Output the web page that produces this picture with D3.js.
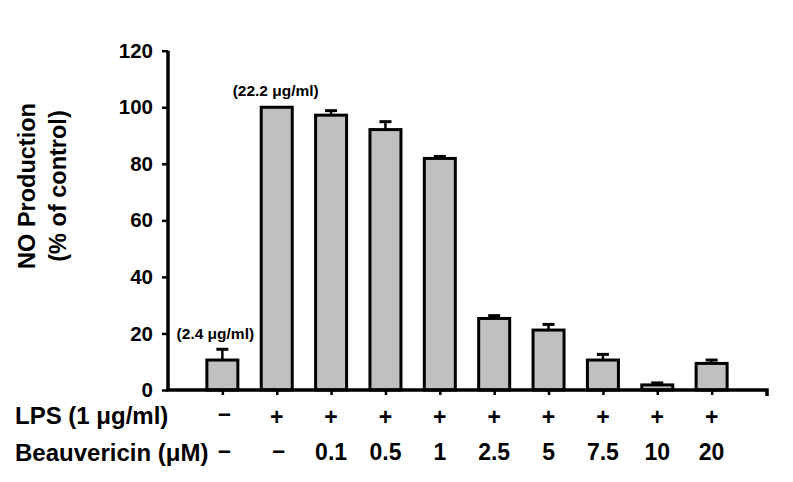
<!DOCTYPE html>
<html>
<head>
<meta charset="utf-8">
<script src="https://cdn.jsdelivr.net/npm/d3@7"></script>
<style>
  html, body { margin: 0; padding: 0; background: #fff; }
  svg { display: block; }
  text { font-family: "Liberation Sans", Arial, sans-serif; font-weight: bold; fill: #000; }
</style>
</head>
<body>
<svg id="chart" width="793" height="482"></svg>
<script>
// ---- data ----
const categories = ["c1", "c2", "c3", "c4", "c5", "c6", "c7", "c8", "c9", "c10"];
const values = [10.6, 100, 97.2, 92.1, 81.9, 25.3, 21.2, 10.6, 1.8, 9.4];
const errors = [3.8, 0, 1.6, 2.8, 0.7, 1.0, 2.0, 2.0, 0.7, 1.2];
const lpsLabels = ["\u2013", "+", "+", "+", "+", "+", "+", "+", "+", "+"];
const beauvericinLabels = ["\u2013", "\u2013", "0.1", "0.5", "1", "2.5", "5", "7.5", "10", "20"];
const yTicks = [0, 20, 40, 60, 80, 100, 120];
const annotations = [
  { index: 0, text: "(2.4 \u03bcg/ml)" },
  { index: 1, text: "(22.2 \u03bcg/ml)" }
];

// ---- layout ----
const svg = d3.select("#chart");
const x0 = 168, x1 = 766, yBottom = 390, yTop = 50.7;

const x = d3.scalePoint().domain(categories).range([x0, x1]).padding(1);
const y = d3.scaleLinear().domain([0, 120]).range([yBottom, yTop]);
const barW = 31;

// bars
svg.append("g").selectAll("rect")
  .data(values)
  .join("rect")
  .attr("x", (d, i) => x(categories[i]) - barW / 2)
  .attr("y", d => y(d))
  .attr("width", barW)
  .attr("height", d => y(0) - y(d))
  .attr("fill", "#c0c0c0")
  .attr("stroke", "#000")
  .attr("stroke-width", 3);

// error bars
const eg = svg.append("g").attr("stroke", "#000");
values.forEach((v, i) => {
  if (!errors[i]) return;
  const cx = x(categories[i]);
  eg.append("line").attr("x1", cx).attr("x2", cx)
    .attr("y1", y(v)).attr("y2", y(v + errors[i])).attr("stroke-width", 2.5);
  eg.append("line").attr("x1", cx - 6).attr("x2", cx + 6)
    .attr("y1", y(v + errors[i])).attr("y2", y(v + errors[i])).attr("stroke-width", 3);
});

// y axis
const yAxis = svg.append("g")
  .attr("transform", `translate(${x0},0)`)
  .call(d3.axisLeft(y).tickValues(yTicks).tickSize(6).tickPadding(9).tickFormat(d3.format("d")));
yAxis.select(".domain").attr("d", `M-0,${yTop}V${yBottom}`).attr("stroke-width", 3.5);
yAxis.selectAll(".tick line").attr("stroke-width", 2.5);
yAxis.selectAll(".tick text")
  .style("font-size", "20.5px").style("font-family", '"Liberation Sans", Arial, sans-serif')
  .style("font-weight", "bold").attr("fill", "#000");

// x axis
const xAxis = svg.append("g")
  .attr("transform", `translate(0,${yBottom})`)
  .call(d3.axisBottom(x).tickSize(5).tickFormat(""));
xAxis.select(".domain").attr("d", `M${x0 - 1.5},0H${x1 + 1}V6`).attr("stroke-width", 3.5).attr("fill", "none");
xAxis.selectAll(".tick line").attr("stroke-width", 2.5);

// row labels
svg.append("text").attr("x", 15).attr("y", 424).style("font-size", "24px").text("LPS (1 \u03bcg/ml)");
svg.append("text").attr("x", 15).attr("y", 461).style("font-size", "24px").text("Beauvericin (\u03bcM)");

svg.append("g").selectAll("text")
  .data(lpsLabels)
  .join("text")
  .attr("x", (d, i) => x(categories[i]) + (d === "+" ? 0 : 2))
  .attr("y", d => d === "+" ? 425 : 421)
  .attr("text-anchor", "middle")
  .style("font-size", "23px")
  .text(d => d);

svg.append("g").selectAll("text")
  .data(beauvericinLabels)
  .join("text")
  .attr("x", (d, i) => x(categories[i]) + (d === "\u2013" ? 2 : 0))
  .attr("y", d => d === "\u2013" ? 458 : 460)
  .attr("text-anchor", "middle")
  .style("font-size", "23px")
  .text(d => d);

// annotations
svg.append("g").selectAll("text")
  .data(annotations)
  .join("text")
  .attr("x", d => x(categories[d.index]) - (d.index === 0 ? 7 : 1))
  .attr("y", d => y(values[d.index] + errors[d.index]) - (d.index === 0 ? 10 : 11))
  .attr("text-anchor", "middle")
  .style("font-size", "15.5px")
  .text(d => d.text);

// y title
svg.append("text").attr("transform", "translate(35,186) rotate(-90)")
  .attr("text-anchor", "middle").style("font-size", "23.5px").text("NO Production");
svg.append("text").attr("transform", "translate(65.5,186) rotate(-90)")
  .attr("text-anchor", "middle").style("font-size", "23.5px").text("(% of control)");
</script>
</body>
</html>
